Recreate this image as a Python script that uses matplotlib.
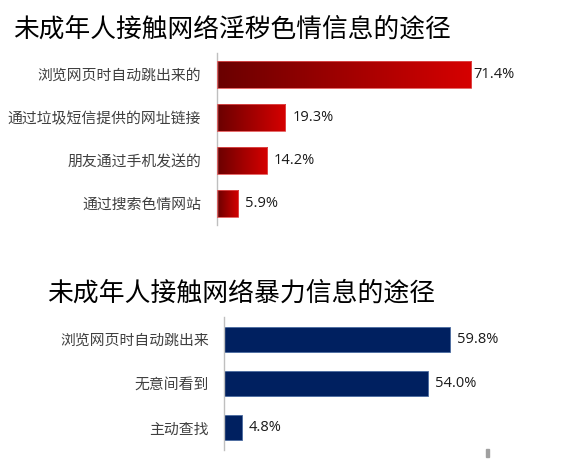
import numpy as np
import matplotlib.pyplot as plt
from matplotlib.colors import LinearSegmentedColormap
from matplotlib.patches import Rectangle

plt.rcParams['font.family'] = ['Noto Sans CJK SC', 'DejaVu Sans']

# data
title_top = "未成年人接触网络淫秽色情信息的途径"
cats_top = ["浏览网页时自动跳出来的", "通过垃圾短信提供的网址链接", "朋友通过手机发送的", "通过搜索色情网站"]
vals_top = [71.4, 19.3, 14.2, 5.9]

title_bot = "未成年人接触网络暴力信息的途径"
cats_bot = ["浏览网页时自动跳出来", "无意间看到", "主动查找"]
vals_bot = [59.8, 54.0, 4.8]

W, H = 581, 459
fig = plt.figure(figsize=(W / 100, H / 100), dpi=100)
fig.patch.set_facecolor("white")

red = LinearSegmentedColormap.from_list("red", ["#6a0000", "#a00000", "#d60000"])


def setup(ax, cats):
    ax.set_xlim(0, 80)
    ax.set_ylim(len(cats) - 0.5, -0.5)
    for s in ["top", "right", "bottom"]:
        ax.spines[s].set_visible(False)
    ax.spines["left"].set_color("#bfbfbf")
    ax.spines["left"].set_linewidth(1.0)
    ax.set_xticks([])
    ax.set_yticks(range(len(cats)))
    ax.set_yticklabels(cats, fontsize=10.7, color="#404040")
    ax.tick_params(axis="y", length=0, pad=11)


def value_labels(ax, vals, pads):
    for i, v in enumerate(vals):
        ax.annotate(f"{v:.1f}%", (v, i), xytext=(pads[i], 0), textcoords="offset points",
                    va="center", ha="left", fontsize=10.5, color="#1a1a1a",
                    family=["Open Sans", "DejaVu Sans"])


# top chart: gradient red bars
ax1 = fig.add_axes([216.5 / W, 1 - 225 / H, 285.6 / W, 172 / H])
h1 = 0.62
grad = np.linspace(0, 1, 256).reshape(1, -1)
for i, v in enumerate(vals_top):
    ax1.imshow(grad, cmap=red, aspect="auto", interpolation="bicubic",
               extent=(0, v, i + h1 / 2, i - h1 / 2), zorder=2)
    ax1.add_patch(Rectangle((0, i - h1 / 2), v, h1, fill=False,
                            edgecolor="#e05050", linewidth=0.6, zorder=3))
setup(ax1, cats_top)
value_labels(ax1, vals_top, [1.5, 5, 5, 5])
fig.text(13 / W, 1 - 30 / H, title_top, fontsize=18.5, va="center", ha="left", color="black")

# bottom chart: navy bars
ax2 = fig.add_axes([224 / W, 1 - 450 / H, 302.4 / W, 133 / H])
ax2.barh(range(len(vals_bot)), vals_bot, height=0.56, color="#002060",
         edgecolor="#4a6aa0", linewidth=0.6, zorder=2)
setup(ax2, cats_bot)
value_labels(ax2, vals_bot, [5, 5, 5])
fig.text(47 / W, 1 - 293 / H, title_bot, fontsize=18.6, va="center", ha="left", color="black")

# small grey mark in the lower right
fig.patches.append(Rectangle((486 / W, 1 - 457 / H), 3 / W, 8 / H,
                             transform=fig.transFigure, color="#a0a0a0"))

fig.savefig("out.png", dpi=100)
